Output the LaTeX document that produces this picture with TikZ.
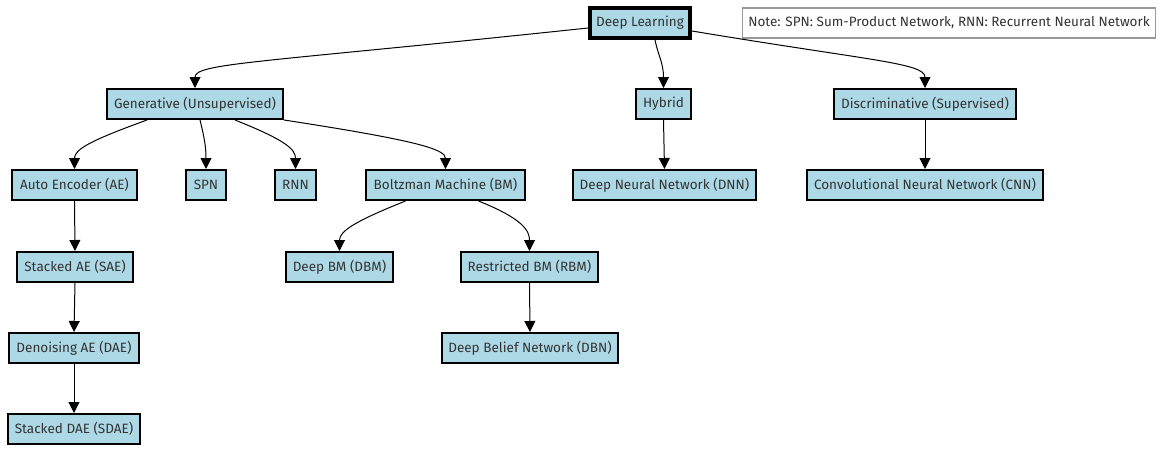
\documentclass[tikz,border=0pt]{standalone}
\usepackage{fontspec}
\setmainfont{Fira Sans}
\usetikzlibrary{arrows.meta}
\definecolor{boxfill}{HTML}{ADD8E6}
\definecolor{txt}{HTML}{333333}
\definecolor{notegray}{HTML}{999999}
\begin{document}
\begin{tikzpicture}[x=1pt,y=-1pt,
  box/.style={draw=black,line width=2pt,fill=boxfill,text=txt,inner sep=0pt,minimum height=30pt,font=\fontsize{13.5}{15}\selectfont},
  edge/.style={draw=black,line width=1pt,-{Triangle[width=11pt,length=11pt]}}]
\useasboundingbox (0,0) rectangle (1164,452);
\node[box,line width=4pt,minimum width=100pt,minimum height=30pt] (dl) at (640,23) {Deep Learning};
\node[draw=notegray,line width=1.5pt,fill=white,text=txt,inner sep=0pt,minimum width=413pt,minimum height=30pt,font=\fontsize{13.5}{15}\selectfont] (note) at (949,23) {Note: SPN: Sum-Product Network, RNN: Recurrent Neural Network};
\node[box,minimum width=176pt] (gen) at (195,104) {Generative (Unsupervised)};
\node[box,minimum width=55pt] (hyb) at (663.5,104) {Hybrid};
\node[box,minimum width=182pt] (disc) at (925,104) {Discriminative (Supervised)};
\node[box,minimum width=125pt] (ae) at (74.5,185) {Auto Encoder (AE)};
\node[box,minimum width=40pt] (spn) at (206,185) {SPN};
\node[box,minimum width=41pt] (rnn) at (295.5,185) {RNN};
\node[box,minimum width=159pt] (bm) at (445.5,185) {Boltzman Machine (BM)};
\node[box,minimum width=183pt] (dnn) at (664.5,185) {Deep Neural Network (DNN)};
\node[box,minimum width=236pt] (cnn) at (925,185) {Convolutional Neural Network (CNN)};
\node[box,minimum width=116pt] (sae) at (75,267) {Stacked AE (SAE)};
\node[box,minimum width=107pt] (dbm) at (339.5,267) {Deep BM (DBM)};
\node[box,minimum width=137pt] (rbm) at (529.5,267) {Restricted BM (RBM)};
\node[box,minimum width=130pt] (dae) at (74,348) {Denoising AE (DAE)};
\node[box,minimum width=176pt] (dbn) at (530,348) {Deep Belief Network (DBN)};
\node[box,minimum width=132pt] (sdae) at (74,429) {Stacked DAE (SDAE)};
% curved edges
\draw[edge] ([yshift=-5pt]dl.west) .. controls +(-330,35) and +(0,-25) .. (gen.north);
\draw[edge] ([xshift=15pt]dl.south) .. controls +(3,15) and +(0,-25) .. (hyb.north);
\draw[edge] ([yshift=-8pt]dl.east) .. controls +(180,30) and +(0,-25) .. (disc.north);
\draw[edge] ([xshift=-48pt]gen.south) .. controls +(-55,20) and +(0,-20) .. (ae.north);
\draw[edge] ([xshift=5pt]gen.south) .. controls +(5,20) and +(0,-20) .. (spn.north);
\draw[edge] ([xshift=40pt]gen.south) .. controls +(50,20) and +(0,-20) .. (rnn.north);
\draw[edge] (gen.south east) .. controls +(130,20) and +(0,-20) .. (bm.north);
\draw[edge] ([xshift=-40pt]bm.south) .. controls +(-50,20) and +(0,-20) .. (dbm.north);
\draw[edge] ([xshift=33pt]bm.south) .. controls +(45,18) and +(0,-20) .. (rbm.north);
% straight edges
\draw[edge] (hyb.south) -- (dnn.north);
\draw[edge] (disc.south) -- (cnn.north);
\draw[edge] (ae.south) -- (sae.north);
\draw[edge] (sae.south) -- (dae.north);
\draw[edge] (dae.south) -- (sdae.north);
\draw[edge] (rbm.south) -- (dbn.north);
\end{tikzpicture}
\end{document}
